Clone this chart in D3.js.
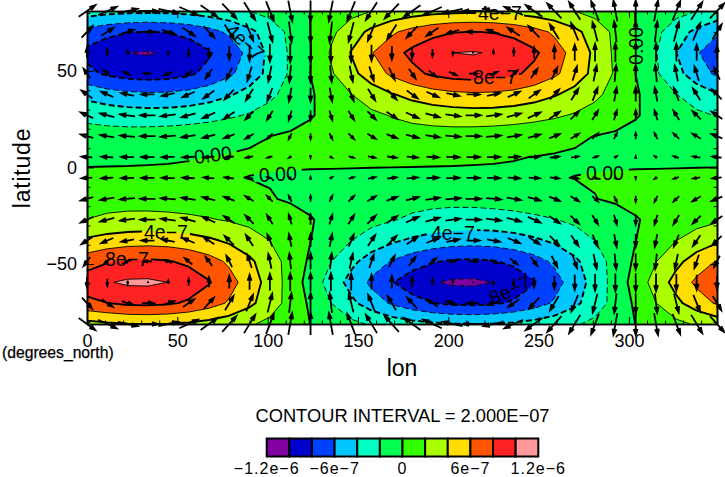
<!DOCTYPE html>
<html><head><meta charset="utf-8">
<script src="https://cdn.jsdelivr.net/npm/d3@7/dist/d3.min.js"></script>
<style>
html,body{margin:0;padding:0;background:#fff}
svg{display:block}
text{font-family:"Liberation Sans",Arial,sans-serif;fill:#000}
</style></head><body><svg id="c" width="725" height="477"></svg>
<script>
const lons=[0,11.25,22.5,33.75,45,56.25,67.5,78.75,90,101.25,112.5,123.75,135,146.25,157.5,168.75,180,191.25,202.5,213.75,225,236.25,247.5,258.75,270,281.25,292.5,303.75,315,326.25,337.5,348.75];
const lats=[81,70.2,59.4,48.6,37.8,27,16.2,5.4,-5.4,-16.2,-27,-37.8,-48.6,-59.4,-70.2,-81];
// field, units of 1e-7, one row per latitude
const field=[
[-2.99,-3.33,-3.53,-3.6,-3.53,-3.33,-2.99,-2.55,-2.0,-1.38,-.7,.02,.7,1.38,2.0,2.55,2.99,3.33,3.53,3.6,3.53,3.33,2.99,2.55,2.0,1.38,.7,-.02,-.7,-1.38,-2.0,-2.55],
[-6.69,-7.44,-7.9,-8.05,-7.9,-7.44,-6.69,-5.69,-4.48,-3.08,-1.57,.02,1.57,3.08,4.48,5.69,6.69,7.44,7.9,8.05,7.9,7.44,6.69,5.69,4.48,3.08,1.57,-.02,-1.57,-3.08,-4.48,-5.69],
[-8.55,-9.4,-10.01,-10.15,-9.8,-9.2,-8.2,-7.0,-5.5,-3.5,-1.75,-.05,2.2,4.1,5.9,7.3,8.45,9.33,10.0,10.12,9.85,9.3,8.35,6.9,5.3,3.6,1.6,.15,-1.9,-4.0,-5.8,-7.3],
[-7.48,-8.32,-8.83,-9,-8.83,-8.32,-7.48,-6.36,-5.0,-3.45,-1.76,.02,1.76,3.45,5.0,6.36,7.48,8.32,8.83,9,8.83,8.32,7.48,6.36,5.0,3.45,1.76,-.02,-1.76,-3.45,-5.0,-6.36],
[-4.61,-5.18,-5.54,-5.69,-5.63,-5.35,-4.86,-4.18,-3.35,-2.39,-1.33,-.22,.89,1.97,2.98,3.87,4.61,5.18,5.54,5.69,5.63,5.35,4.86,4.18,3.35,2.39,1.33,.22,-.89,-1.97,-2.98,-3.87],
[-2.51,-2.81,-3.01,-3.1,-3.06,-2.91,-2.64,-2.28,-1.82,-1.3,-.72,-.12,.48,1.07,1.62,2.1,2.51,2.81,3.01,3.1,3.06,2.91,2.64,2.28,1.82,1.3,.72,.12,-.48,-1.07,-1.62,-2.1],
[-1.18,-1.2,-1.18,-1.11,-1.0,-.85,-.67,-.46,-.23,-.01,.23,.46,.67,.85,1.0,1.11,1.18,1.2,1.18,1.11,1.0,.85,.67,.46,.23,-.03,-.23,-.46,-.67,-.85,-1.0,-1.11],
[-.36,-.32,-.27,-.2,-.13,-.05,.02,.1,.17,.24,.3,.34,.38,.4,.4,.39,.36,.32,.27,.2,.13,.05,-.02,-.1,-.17,-.24,-.3,-.34,-.38,-.4,-.4,-.39],
[.4,.39,.36,.32,.27,.21,.14,.06,-.02,-.09,-.17,-.24,-.29,-.34,-.38,-.4,-.4,-.39,-.36,-.32,-.27,-.21,-.14,-.06,.02,.09,.17,.24,.29,.34,.38,.4],
[1.35,1.4,1.38,1.3,1.18,1.02,.83,.61,.35,.09,-.16,-.42,-.67,-.9,-1.12,-1.28,-1.42,-1.5,-1.5,-1.44,-1.3,-1.12,-.88,-.62,-.33,-.03,.2,.44,.67,.9,1.08,1.22],
[2.02,2.27,2.43,2.5,2.47,2.35,2.13,1.84,1.47,1.05,.58,.1,-.44,-.97,-1.46,-1.9,-2.27,-2.54,-2.72,-2.8,-2.77,-2.63,-2.39,-2.06,-1.65,-1.17,-.65,-.11,.39,.87,1.31,1.7],
[4.32,4.8,5.1,5.2,5.1,4.8,4.32,3.68,2.89,1.99,1.01,.02,-1.01,-1.99,-2.89,-3.68,-4.32,-4.8,-5.1,-5.2,-5.1,-4.8,-4.32,-3.68,-2.89,-1.99,-1.01,-.02,1.01,1.99,2.89,3.68],
[7.12,7.83,8.25,8.34,8.12,7.58,6.76,5.67,4.36,2.89,1.3,-.33,-1.95,-3.5,-4.91,-6.13,-7.12,-7.83,-8.25,-8.34,-8.12,-7.58,-6.76,-5.67,-4.36,-2.89,-1.3,.33,1.95,3.5,4.91,6.13],
[9.05,9.86,10.3,10.34,9.98,9.24,8.14,6.73,5.06,3.2,1.22,-.81,-2.81,-4.71,-6.42,-7.88,-9.05,-9.86,-10.3,-10.34,-9.98,-9.24,-8.14,-6.73,-5.06,-3.2,-1.22,.81,2.81,4.71,6.42,7.88],
[7.5,7.97,8.4,8.49,8.26,7.72,6.88,5.77,4.44,2.94,1.33,-.33,-1.98,-3.56,-5.0,-6.24,-7.25,-7.97,-8.4,-8.49,-8.26,-7.72,-6.88,-5.77,-4.44,-2.94,-1.33,.33,1.98,3.56,5.0,6.24],
[3.32,3.7,3.92,4.0,3.92,3.7,3.32,2.83,2.22,1.53,.78,-.02,-.78,-1.53,-2.22,-2.83,-3.32,-3.7,-3.92,-4.0,-3.92,-3.7,-3.32,-2.83,-2.22,-1.53,-.78,.02,.78,1.53,2.22,2.83]
];
// eastward vector component
const uWind=[
[16.6,18.5,19.6,20,19.6,18.5,16.6,14.1,11.1,7.7,3.9,0,-3.9,-7.7,-11.1,-14.1,-16.6,-18.5,-19.6,-20,-19.6,-18.5,-16.6,-14.1,-11.1,-7.7,-3.9,0,3.9,7.7,11.1,14.1],
[10.8,12,12.8,13,12.8,12,10.8,9.2,7.2,5,2.5,0,-2.5,-5,-7.2,-9.2,-10.8,-12,-12.8,-13,-12.8,-12,-10.8,-9.2,-7.2,-5,-2.5,0,2.5,5,7.2,9.2],
[0,0,0,0,0,0,0,0,0,0,0,0,0,0,0,0,0,0,0,0,0,0,0,0,0,0,0,0,0,0,0,0],
[-6.6,-7.4,-7.8,-8,-7.8,-7.4,-6.6,-5.7,-4.4,-3.1,-1.6,0,1.6,3.1,4.4,5.7,6.6,7.4,7.8,8,7.8,7.4,6.6,5.7,4.4,3.1,1.6,0,-1.6,-3.1,-4.4,-5.7],
[-10.8,-12,-12.8,-13,-12.8,-12,-10.8,-9.2,-7.2,-5,-2.5,0,2.5,5,7.2,9.2,10.8,12,12.8,13,12.8,12,10.8,9.2,7.2,5,2.5,0,-2.5,-5,-7.2,-9.2],
[-12.5,-13.9,-14.7,-15,-14.7,-13.9,-12.5,-10.6,-8.3,-5.7,-2.9,0,2.9,5.7,8.3,10.6,12.5,13.9,14.7,15,14.7,13.9,12.5,10.6,8.3,5.7,2.9,0,-2.9,-5.7,-8.3,-10.6],
[-12.5,-13.9,-14.7,-15,-14.7,-13.9,-12.5,-10.6,-8.3,-5.7,-2.9,0,2.9,5.7,8.3,10.6,12.5,13.9,14.7,15,14.7,13.9,12.5,10.6,8.3,5.7,2.9,0,-2.9,-5.7,-8.3,-10.6],
[-10.8,-12,-12.8,-13,-12.8,-12,-10.8,-9.2,-7.2,-5,-2.5,0,2.5,5,7.2,9.2,10.8,12,12.8,13,12.8,12,10.8,9.2,7.2,5,2.5,0,-2.5,-5,-7.2,-9.2],
[-10.8,-12,-12.8,-13,-12.8,-12,-10.8,-9.2,-7.2,-5,-2.5,0,2.5,5,7.2,9.2,10.8,12,12.8,13,12.8,12,10.8,9.2,7.2,5,2.5,0,-2.5,-5,-7.2,-9.2],
[-12.5,-13.9,-14.7,-15,-14.7,-13.9,-12.5,-10.6,-8.3,-5.7,-2.9,0,2.9,5.7,8.3,10.6,12.5,13.9,14.7,15,14.7,13.9,12.5,10.6,8.3,5.7,2.9,0,-2.9,-5.7,-8.3,-10.6],
[-12.5,-13.9,-14.7,-15,-14.7,-13.9,-12.5,-10.6,-8.3,-5.7,-2.9,0,2.9,5.7,8.3,10.6,12.5,13.9,14.7,15,14.7,13.9,12.5,10.6,8.3,5.7,2.9,0,-2.9,-5.7,-8.3,-10.6],
[-10.8,-12,-12.8,-13,-12.8,-12,-10.8,-9.2,-7.2,-5,-2.5,0,2.5,5,7.2,9.2,10.8,12,12.8,13,12.8,12,10.8,9.2,7.2,5,2.5,0,-2.5,-5,-7.2,-9.2],
[-6.6,-7.4,-7.8,-8,-7.8,-7.4,-6.6,-5.7,-4.4,-3.1,-1.6,0,1.6,3.1,4.4,5.7,6.6,7.4,7.8,8,7.8,7.4,6.6,5.7,4.4,3.1,1.6,0,-1.6,-3.1,-4.4,-5.7],
[0,0,0,0,0,0,0,0,0,0,0,0,0,0,0,0,0,0,0,0,0,0,0,0,0,0,0,0,0,0,0,0],
[10,11.1,11.8,12,11.8,11.1,10,8.5,6.7,4.6,2.3,0,-2.3,-4.6,-6.7,-8.5,-10,-11.1,-11.8,-12,-11.8,-11.1,-10,-8.5,-6.7,-4.6,-2.3,0,2.3,4.6,6.7,8.5],
[16.6,18.5,19.6,20,19.6,18.5,16.6,14.1,11.1,7.7,3.9,0,-3.9,-7.7,-11.1,-14.1,-16.6,-18.5,-19.6,-20,-19.6,-18.5,-16.6,-14.1,-11.1,-7.7,-3.9,0,3.9,7.7,11.1,14.1]
];
// northward vector component
const vWind=[
[11.7,8,4.1,0,-4.1,-8,-11.7,-14.8,-17.5,-19.4,-20.6,-21,-20.6,-19.4,-17.5,-14.8,-11.7,-8,-4.1,0,4.1,8,11.7,14.8,17.5,19.4,20.6,21,20.6,19.4,17.5,14.8],
[11.7,8,4.1,0,-4.1,-8,-11.7,-14.8,-17.5,-19.4,-20.6,-21,-20.6,-19.4,-17.5,-14.8,-11.7,-8,-4.1,0,4.1,8,11.7,14.8,17.5,19.4,20.6,21,20.6,19.4,17.5,14.8],
[10.6,7.3,3.7,0,-3.7,-7.3,-10.6,-13.4,-15.8,-17.6,-18.6,-19,-18.6,-17.6,-15.8,-13.4,-10.6,-7.3,-3.7,0,3.7,7.3,10.6,13.4,15.8,17.6,18.6,19,18.6,17.6,15.8,13.4],
[9.5,6.5,3.3,0,-3.3,-6.5,-9.5,-12,-14.1,-15.7,-16.7,-17,-16.7,-15.7,-14.1,-12,-9.5,-6.5,-3.3,0,3.3,6.5,9.5,12,14.1,15.7,16.7,17,16.7,15.7,14.1,12],
[7.8,5.4,2.7,0,-2.7,-5.4,-7.8,-9.9,-11.6,-12.9,-13.7,-14,-13.7,-12.9,-11.6,-9.9,-7.8,-5.4,-2.7,0,2.7,5.4,7.8,9.9,11.6,12.9,13.7,14,13.7,12.9,11.6,9.9],
[5.6,3.8,2,0,-2,-3.8,-5.6,-7.1,-8.3,-9.2,-9.8,-10,-9.8,-9.2,-8.3,-7.1,-5.6,-3.8,-2,0,2,3.8,5.6,7.1,8.3,9.2,9.8,10,9.8,9.2,8.3,7.1],
[3.3,2.3,1.2,0,-1.2,-2.3,-3.3,-4.2,-5,-5.5,-5.9,-6,-5.9,-5.5,-5,-4.2,-3.3,-2.3,-1.2,0,1.2,2.3,3.3,4.2,5,5.5,5.9,6,5.9,5.5,5,4.2],
[.8,.6,.3,0,-.3,-.6,-.8,-1.1,-1.2,-1.4,-1.5,-1.5,-1.5,-1.4,-1.2,-1.1,-.8,-.6,-.3,0,.3,.6,.8,1.1,1.2,1.4,1.5,1.5,1.5,1.4,1.2,1.1],
[-.8,-.6,-.3,0,.3,.6,.8,1.1,1.2,1.4,1.5,1.5,1.5,1.4,1.2,1.1,.8,.6,.3,0,-.3,-.6,-.8,-1.1,-1.2,-1.4,-1.5,-1.5,-1.5,-1.4,-1.2,-1.1],
[-3.3,-2.3,-1.2,0,1.2,2.3,3.3,4.2,5,5.5,5.9,6,5.9,5.5,5,4.2,3.3,2.3,1.2,0,-1.2,-2.3,-3.3,-4.2,-5,-5.5,-5.9,-6,-5.9,-5.5,-5,-4.2],
[-5.6,-3.8,-2,0,2,3.8,5.6,7.1,8.3,9.2,9.8,10,9.8,9.2,8.3,7.1,5.6,3.8,2,0,-2,-3.8,-5.6,-7.1,-8.3,-9.2,-9.8,-10,-9.8,-9.2,-8.3,-7.1],
[-7.2,-5,-2.5,0,2.5,5,7.2,9.2,10.8,12,12.8,13,12.8,12,10.8,9.2,7.2,5,2.5,0,-2.5,-5,-7.2,-9.2,-10.8,-12,-12.8,-13,-12.8,-12,-10.8,-9.2],
[-8.9,-6.1,-3.1,0,3.1,6.1,8.9,11.3,13.3,14.8,15.7,16,15.7,14.8,13.3,11.3,8.9,6.1,3.1,0,-3.1,-6.1,-8.9,-11.3,-13.3,-14.8,-15.7,-16,-15.7,-14.8,-13.3,-11.3],
[-10,-6.9,-3.5,0,3.5,6.9,10,12.7,15,16.6,17.7,18,17.7,16.6,15,12.7,10,6.9,3.5,0,-3.5,-6.9,-10,-12.7,-15,-16.6,-17.7,-18,-17.7,-16.6,-15,-12.7],
[-11.1,-7.7,-3.9,0,3.9,7.7,11.1,14.1,16.6,18.5,19.6,20,19.6,18.5,16.6,14.1,11.1,7.7,3.9,0,-3.9,-7.7,-11.1,-14.1,-16.6,-18.5,-19.6,-20,-19.6,-18.5,-16.6,-14.1],
[-12.2,-8.4,-4.3,0,4.3,8.4,12.2,15.6,18.3,20.3,21.6,22,21.6,20.3,18.3,15.6,12.2,8.4,4.3,0,-4.3,-8.4,-12.2,-15.6,-18.3,-20.3,-21.6,-22,-21.6,-20.3,-18.3,-15.6]
];
const levels=[-12,-10,-8,-6,-4,-2,0,2,4,6,8,10,12];
const bandColors=["#8000a0","#0000cc","#0040ff","#00c8ff","#00ffc0","#00ff50","#33ff00","#aaff00","#ffdd00","#ff5500","#ff2222","#ff9999"];
const xTicks=[0,50,100,150,200,250,300];
const xMinor=[10,20,30,40,60,70,80,90,110,120,130,140,160,170,180,190,210,220,230,240,260,270,280,290,310,320,330,340];
const yTicks=[50,0,-50];
const yMinor=[80,70,60,40,30,20,10,-10,-20,-30,-40,-60,-70,-80];
const legendTicks=[-12,-6,0,6,12];
const legendTickLabels=["−1.2e−6","−6e−7","0","6e−7","1.2e−6"];
const contourLabels=[
 {t:"4e−7",lon:87.5,lat:65,a:42},{t:"0.00",lon:69.7,lat:6.5,a:-7},{t:"0.00",lon:105.7,lat:-3.4,a:-3},
 {t:"0.00",lon:286.7,lat:-2.8,a:0},{t:"4e−7",lon:228.6,lat:80,a:0},{t:"8e−7",lon:225.9,lat:46.8,a:0},
 {t:"0.00",lon:304,lat:62.9,a:-90},{t:"4e−7",lon:43.7,lat:-33.4,a:0},{t:"8e−7",lon:22.1,lat:-47.4,a:0},
 {t:"4e−7",lon:202.6,lat:-33.9,a:0},{t:"8e−7",lon:234.2,lat:-63.4,a:-25}
];

const L=87,R=717,T=11,B=324;
const svg=d3.select("#c");
const x=d3.scaleLinear().domain([0,348.75]).range([L,R]);
const y=d3.scaleLinear().domain([81,-81]).range([T,B]);
const colLon=d3.scaleLinear().domain([0,lons.length-1]).range([lons[0],lons[lons.length-1]]);
const rowLat=d3.scaleLinear().domain([0,lats.length-1]).range([lats[0],lats[lats.length-1]]);
const nx=lons.length,ny=lats.length;
const flat=field.flat();
const contours=d3.contours().size([nx,ny]).smooth(true);
const path=d3.geoPath(d3.geoTransform({point(a,b){this.stream.point(x(colLon(a-.5)),y(rowLat(b-.5)));}}));
const defs=svg.append("defs");
defs.append("clipPath").attr("id","plot").append("rect").attr("x",L).attr("y",T).attr("width",R-L).attr("height",B-T);
const mask=defs.append("mask").attr("id","gaps").attr("maskUnits","userSpaceOnUse").attr("x",0).attr("y",0).attr("width",725).attr("height",477);
mask.append("rect").attr("width",725).attr("height",477).attr("fill","#fff");
mask.selectAll("rect.g").data(contourLabels).join("rect").attr("class","g").attr("x",-24).attr("y",-7).attr("width",48).attr("height",14).attr("fill","#000")
 .attr("transform",d=>`translate(${x(d.lon)},${y(d.lat)}) rotate(${d.a})`);

const fillG=svg.append("g").attr("clip-path","url(#plot)");
fillG.append("rect").attr("x",L).attr("y",T).attr("width",R-L).attr("height",B-T).attr("fill",bandColors[0]);
levels.slice(1,-1).forEach((lv,i)=>{
  fillG.append("path").attr("d",path(contours.contour(flat,lv))).attr("fill",bandColors[i+1]);
});
const lineClip=svg.append("g").attr("clip-path","url(#plot)");
const lineG=lineClip.append("g").attr("mask","url(#gaps)");
levels.slice(1,-1).forEach(lv=>{
  const heavy=lv%4===0;
  lineG.append("path").attr("d",path(contours.contour(flat,lv))).attr("fill","none").attr("stroke","#000")
   .attr("stroke-width",heavy?1.9:.9).attr("stroke-dasharray",lv<0?"6 3":null).attr("stroke-linejoin","round");
});

// frame and ticks
function axisStyle(g){g.selectAll("path.domain").attr("stroke","#000").attr("stroke-width",1.6);g.selectAll("line").attr("stroke","#000").attr("stroke-width",1);g.selectAll("text").attr("font-family",null);}
const xb=svg.append("g").attr("transform",`translate(0,${B})`).call(d3.axisBottom(x).tickValues(xTicks).tickSize(-7).tickSizeOuter(0).tickPadding(10).tickFormat(d3.format("d")));
xb.selectAll("text").attr("font-size",18);xb.call(axisStyle);
const xm=svg.append("g").attr("transform",`translate(0,${B})`).call(d3.axisBottom(x).tickValues(xMinor).tickSize(-3.5).tickSizeOuter(0).tickFormat(""));xm.call(axisStyle);
const xt=svg.append("g").attr("transform",`translate(0,${T})`).call(d3.axisTop(x).tickValues(xTicks).tickSize(-7).tickSizeOuter(0).tickFormat(""));xt.call(axisStyle);
const xt2=svg.append("g").attr("transform",`translate(0,${T})`).call(d3.axisTop(x).tickValues(xMinor).tickSize(-3.5).tickSizeOuter(0).tickFormat(""));xt2.call(axisStyle);
const yl=svg.append("g").attr("transform",`translate(${L},0)`).call(d3.axisLeft(y).tickValues(yTicks).tickSize(-7).tickSizeOuter(0).tickPadding(10).tickFormat(d=>String(d).replace("-","−")));
yl.selectAll("text").attr("font-size",18);yl.call(axisStyle);
const ym=svg.append("g").attr("transform",`translate(${L},0)`).call(d3.axisLeft(y).tickValues(yMinor).tickSize(-3.5).tickSizeOuter(0).tickFormat(""));ym.call(axisStyle);
const yr=svg.append("g").attr("transform",`translate(${R},0)`).call(d3.axisRight(y).tickValues(yTicks).tickSize(-7).tickSizeOuter(0).tickFormat(""));yr.call(axisStyle);
const yr2=svg.append("g").attr("transform",`translate(${R},0)`).call(d3.axisRight(y).tickValues(yMinor).tickSize(-3.5).tickSizeOuter(0).tickFormat(""));yr2.call(axisStyle);

// vector arrows centred on grid points
const arrows=[];
lats.forEach((la,j)=>lons.forEach((lo,i)=>arrows.push({lo,la,u:uWind[j][i],v:vWind[j][i]})));
function arrowPath(d){
  const px=x(d.lo),py=y(d.la),dx=d.u,dy=-d.v,len=Math.hypot(dx,dy);
  if(len<.01) return `M${px-1},${py}L${px+1},${py}`;
  const ux=dx/len,uy=dy/len,tx=px+dx/2,ty=py+dy/2,h=Math.min(6,Math.max(2.5,len*.5)),w=h*.33;
  const bx=tx-ux*h,by=ty-uy*h;
  return `M${px-dx/2},${py-dy/2}L${tx},${ty}M${bx-uy*w},${by+ux*w}L${tx},${ty}L${bx+uy*w},${by-ux*w}`;
}
svg.append("g").selectAll("path").data(arrows).join("path").attr("d",arrowPath).attr("fill","none").attr("stroke","#000").attr("stroke-width",1.8).attr("stroke-linejoin","miter");

// contour labels
svg.append("g").selectAll("text").data(contourLabels).join("text").text(d=>d.t).attr("text-anchor","middle").attr("dy",".35em").attr("font-size",19.5)
 .attr("transform",d=>`translate(${x(d.lon)},${y(d.lat)}) rotate(${d.a})`);

// titles
svg.append("text").attr("text-anchor","middle").attr("font-size",23).attr("letter-spacing",.8).attr("transform","translate(30,168) rotate(-90)").text("latitude");
svg.append("text").attr("x",402).attr("y",376).attr("text-anchor","middle").attr("font-size",23).text("lon");
svg.append("text").attr("x",2).attr("y",358).attr("font-size",15.7).attr("stroke","#000").attr("stroke-width",.25).text("(degrees_north)");
svg.append("text").attr("x",402.5).attr("y",422).attr("text-anchor","middle").attr("font-size",18.3).text("CONTOUR INTERVAL = 2.000E−07");

// colour key
const lx=d3.scaleLinear().domain([-12,12]).range([266.7,538.3]);
const lg=svg.append("g");
lg.selectAll("rect").data(bandColors).join("rect").attr("x",(d,i)=>lx(levels[i])).attr("y",438.5).attr("width",(d,i)=>lx(levels[i+1])-lx(levels[i])).attr("height",18)
 .attr("fill",d=>d).attr("stroke","#000").attr("stroke-width",2);
lg.selectAll("text").data(legendTicks).join("text").attr("x",d=>lx(d)).attr("y",473.5).attr("text-anchor","middle").attr("font-size",16).attr("letter-spacing",1).text((d,i)=>legendTickLabels[i]);
</script></body></html>
